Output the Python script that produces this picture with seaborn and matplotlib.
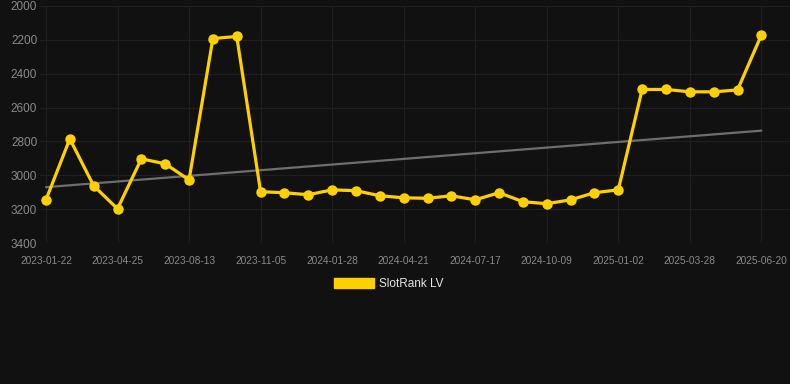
import numpy as np
import pandas as pd
import matplotlib
matplotlib.use("Agg")
import matplotlib.pyplot as plt
from matplotlib.patches import Patch
import seaborn as sns

# ----------- data -----------
dates = ["2023-01-22", "2023-02-22", "2023-03-24", "2023-04-25", "2023-06-01",
         "2023-07-08", "2023-08-13", "2023-09-13", "2023-10-09", "2023-11-05",
         "2023-12-03", "2023-12-31", "2024-01-28", "2024-02-25", "2024-03-24",
         "2024-04-21", "2024-05-23", "2024-06-20", "2024-07-17", "2024-08-14",
         "2024-09-11", "2024-10-09", "2024-11-05", "2024-12-04", "2025-01-02",
         "2025-01-31", "2025-02-28", "2025-03-28", "2025-04-24", "2025-05-22",
         "2025-06-20"]
rank = [3145, 2785, 3062, 3198, 2903, 2932, 3027, 2192, 2180, 3097,
        3103, 3115, 3086, 3091, 3121, 3133, 3136, 3121, 3145, 3103,
        3156, 3168, 3145, 3103, 3086, 2493, 2493, 2507, 2507, 2496,
        2171]
series_name = "SlotRank LV"

df = pd.DataFrame({"idx": np.arange(len(dates)), "date": dates, "rank": rank})

bg = "#111111"
yellow = "#FFD000"
txt = "#8a8a8a"

sns.set_style("dark")
plt.rcParams["font.family"] = ["Liberation Sans", "DejaVu Sans"]

fig = plt.figure(figsize=(7.9, 3.84), dpi=100, facecolor=bg)
ax = fig.add_axes([40 / 790, 141 / 384, 750 / 790, 237 / 384], facecolor=bg)

# trend line
sns.regplot(x="idx", y="rank", data=df, scatter=False, ci=None, ax=ax,
            line_kws={"color": "#6e6e6e", "linewidth": 1.6, "zorder": 2})

sns.lineplot(x="idx", y="rank", data=df, ax=ax, color=yellow, linewidth=2.3,
             marker="o", markersize=7.5, markeredgewidth=0, zorder=3)

ax.set_ylim(3400, 2000)
ax.set_yticks(range(2000, 3401, 200))
ax.set_xlim(-0.25, 31.2)
ax.set_xticks(df["idx"][::3])
ax.set_xticklabels(dates[::3])
ax.tick_params(axis="y", labelsize=8.5, colors=txt, length=0, pad=2)
ax.tick_params(axis="x", labelsize=7.3, colors=txt, length=0, pad=9)
ax.grid(True, color="#1f1f1f", linewidth=0.9)
ax.set_xlabel("")
ax.set_ylabel("")
for s in ax.spines.values():
    s.set_visible(False)

fig.legend(handles=[Patch(facecolor=yellow, edgecolor=yellow, label=series_name)],
           loc="center", bbox_to_anchor=(389 / 790, 1 - 284 / 384), frameon=False,
           fontsize=8.5, labelcolor="#e6e6e6", handlelength=3.4, handleheight=0.9,
           handletextpad=0.45)

fig.savefig("out.png", dpi=100, facecolor=bg)
